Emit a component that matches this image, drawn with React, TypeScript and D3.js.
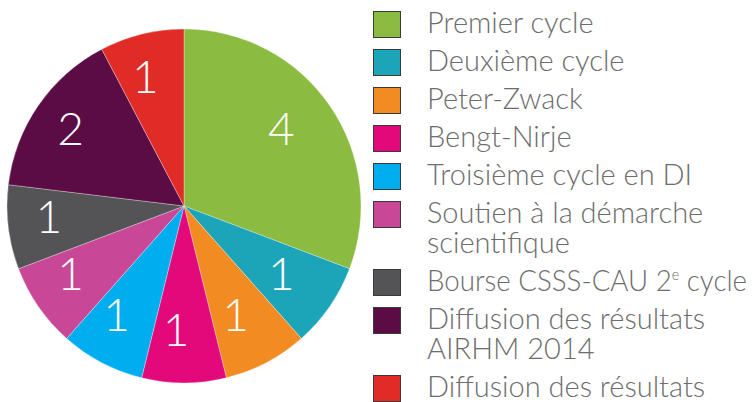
import React, { useLayoutEffect, useRef } from 'react';
import * as d3 from 'd3';

const categories = [
  'Premier cycle',
  'Deuxième cycle',
  'Peter-Zwack',
  'Bengt-Nirje',
  'Troisième cycle en DI',
  'Soutien à la démarche\nscientifique',
  'Bourse CSSS-CAU 2^e cycle',
  'Diffusion des résultats\nAIRHM 2014',
  'Diffusion des résultats',
];
const values = [4, 1, 1, 1, 1, 1, 1, 2, 1];
const colors = [
  '#8cbb41',
  '#1ca5b8',
  '#f28c22',
  '#e4097a',
  '#00aeef',
  '#c84897',
  '#545456',
  '#5c0c44',
  '#e02b27',
];

const W = 754;
const H = 402;
const cx = 184;
const cy = 206;
const R = 177;
const labelR = 128;
const labelDx = -8;
const labelDy = -6;
const textX = 427;
const maxTextW = 320;

function renderLine(line: string) {
  const m = line.match(/^(.*?)\^(\w)(.*)$/);
  if (!m) return line;
  return (
    <>
      {m[1]}
      <tspan fontSize={15} baselineShift="11">{m[2]}</tspan>
      {m[3]}
    </>
  );
}

export default function App() {
  const svgRef = useRef<SVGSVGElement>(null);
  const pie = d3.pie<number>().value((d) => d).sort(null);
  const arcs = pie(values);
  const arc = d3.arc<d3.PieArcDatum<number>>().innerRadius(0).outerRadius(R);
  const labelArc = d3
    .arc<d3.PieArcDatum<number>>()
    .innerRadius(labelR)
    .outerRadius(labelR);

  let extra = 0;
  const legend = categories.map((c, i) => {
    const lines = c.split('\n');
    const base = 33 + 38 * i + 30 * extra;
    extra += lines.length - 1;
    return { lines, base, color: colors[i] };
  });

  useLayoutEffect(() => {
    if (!svgRef.current) return;
    d3.select(svgRef.current)
      .selectAll<SVGTextElement, unknown>('text.legend-text')
      .each(function () {
        const w = this.getComputedTextLength();
        if (w > maxTextW) {
          this.setAttribute('textLength', String(maxTextW));
          this.setAttribute('lengthAdjust', 'spacingAndGlyphs');
        }
      });
  }, []);

  return (
    <svg
      ref={svgRef}
      width={W}
      height={H}
      style={{ position: 'absolute', left: 0, top: 0, background: '#fff' }}
      fontFamily="Lato, 'Open Sans', sans-serif"
    >
      <g transform={`translate(${cx},${cy})`}>
        {arcs.map((a, i) => (
          <path
            key={i}
            d={arc(a) || ''}
            fill={colors[i]}
            stroke="#ffffff"
            strokeOpacity={0.5}
            strokeWidth={0.6}
          />
        ))}
        <g transform={`translate(${labelDx},${labelDy})`}>
          {arcs.map((a, i) => {
            const [x, y] = labelArc.centroid(a);
            return (
              <text
                key={'l' + i}
                x={x}
                y={y}
                textAnchor="middle"
                dominantBaseline="central"
                fill="#ffffff"
                fontWeight={300}
                fontSize={46}
              >
                {values[i]}
              </text>
            );
          })}
        </g>
      </g>
      <g>
        {legend.map((l, i) => (
          <g key={i}>
            <rect
              x={373.5}
              y={l.base - 21.5}
              width={27}
              height={26}
              fill={l.color}
              stroke="#3a3a3a"
              strokeWidth={1}
            />
            {l.lines.map((ln, j) => (
              <text
                key={j}
                className="legend-text"
                x={textX}
                y={l.base + 30 * j}
                fill="#6d6d6d"
                fontWeight={300}
                fontSize={29}
              >
                {renderLine(ln)}
              </text>
            ))}
          </g>
        ))}
      </g>
    </svg>
  );
}
